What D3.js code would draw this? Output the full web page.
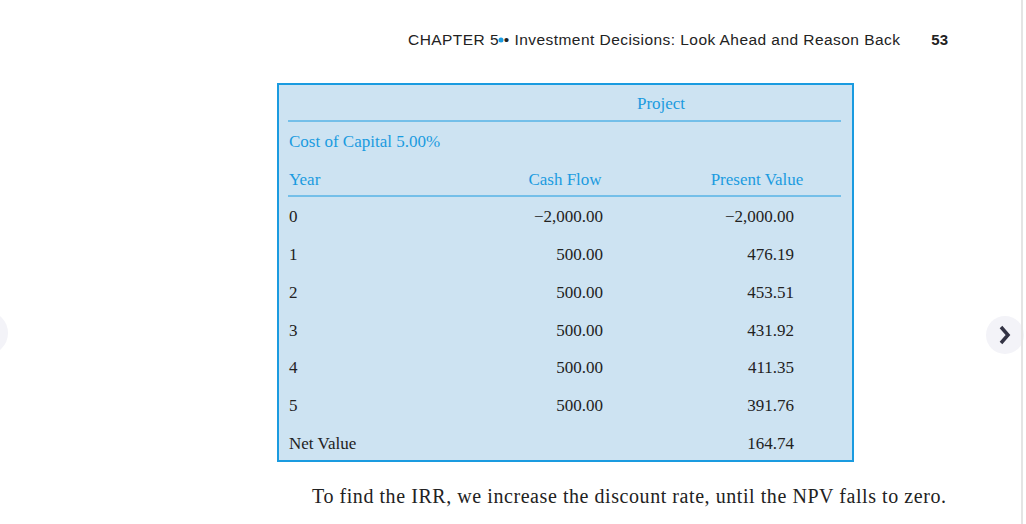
<!doctype html>
<html lang="en-us">
<head>
<meta charset="utf-8">
<title>Project NPV table</title>
<script src="https://d3js.org/d3.v7.min.js"></script>
<style>
	body { margin: 0; background: #fff; }
	svg text { font-family: "Liberation Serif", serif; }
</style>
</head>
<body>
<div id="chart"></div>
<script>
	// table data
	var years = ["0", "1", "2", "3", "4", "5"];
	var cashFlow = [-2000, 500, 500, 500, 500, 500];
	var presentValue = [-2000, 476.19, 453.51, 431.92, 411.35, 391.76];
	var netValue = 164.74;
	var columns = ["Year", "Cash Flow", "Present Value"];

	var W = 1026, H = 524;
	var blue = "#1a9be0", ink = "#222";
	var fmt = function (v) { return d3.format(",.2f")(v).replace("-", "\u2212"); };

	var svg = d3.select("#chart").append("svg")
		.attr("width", W).attr("height", H);

	// page header
	svg.append("text").attr("x", 900).attr("y", 45).attr("text-anchor", "end")
		.style("font-family", "'Liberation Sans', sans-serif").style("font-size", "15.5px")
		.attr("fill", ink).attr("textLength", 492)
		.text("CHAPTER 5 \u2022 Investment Decisions: Look Ahead and Reason Back");
	svg.append("circle").attr("cx", 501).attr("cy", 40).attr("r", 2.5).attr("fill", blue);
	svg.append("text").attr("x", 948).attr("y", 45).attr("text-anchor", "end")
		.style("font-family", "'Liberation Sans', sans-serif").style("font-size", "15px")
		.style("font-weight", "bold").attr("fill", ink).text("53");

	// table box
	svg.append("rect").attr("x", 278).attr("y", 84).attr("width", 575).attr("height", 377)
		.attr("fill", "#cde3f2").attr("stroke", blue).attr("stroke-width", 2);

	var rows = years.concat(["Net Value"]);
	var y = d3.scalePoint().domain(rows).range([216, 443]);

	var g = svg.append("g").style("font-size", "17px");

	g.append("text").attr("x", 661).attr("y", 109).attr("text-anchor", "middle")
		.attr("fill", blue).text("Project");
	g.append("text").attr("x", 289).attr("y", 147).attr("fill", blue).text("Cost of Capital 5.00%");
	[121, 196].forEach(function (ly) {
		g.append("line").attr("x1", 288).attr("x2", 841).attr("y1", ly).attr("y2", ly)
			.attr("stroke", blue).attr("stroke-width", 1);
	});

	var headX = [289, 565, 757], headAnchor = ["start", "middle", "middle"];
	g.selectAll(".head").data(columns).enter().append("text")
		.attr("x", function (d, i) { return headX[i]; })
		.attr("y", 185).attr("text-anchor", function (d, i) { return headAnchor[i]; })
		.attr("fill", blue).text(function (d) { return d; });

	var data = years.map(function (yr, i) { return { year: yr, cf: cashFlow[i], pv: presentValue[i] }; });
	data.push({ year: "Net Value", cf: null, pv: netValue });

	var row = g.selectAll(".row").data(data).enter().append("g")
		.attr("transform", function (d) { return "translate(0," + (y(d.year) + 6) + ")"; })
		.attr("fill", ink);
	row.append("text").attr("x", 289).text(function (d) { return d.year; });
	row.append("text").attr("x", 603).attr("text-anchor", "end")
		.text(function (d) { return d.cf === null ? "" : fmt(d.cf); });
	row.append("text").attr("x", 794).attr("text-anchor", "end")
		.text(function (d) { return fmt(d.pv); });

	// caption
	svg.append("text").attr("x", 312).attr("y", 503).attr("fill", ink)
		.style("font-size", "20px").attr("textLength", 634)
		.text("To find the IRR, we increase the discount rate, until the NPV falls to zero.");

	// viewer chrome
	svg.append("circle").attr("cx", -14).attr("cy", 333).attr("r", 22).attr("fill", "#f3f3f8");
	svg.append("circle").attr("cx", 1005).attr("cy", 335).attr("r", 19).attr("fill", "#f3f3f8");
	svg.append("path").attr("d", "M1001,327 L1008,335 L1001,343").attr("fill", "none")
		.attr("stroke", "#333344").attr("stroke-width", 3.5);
	svg.append("line").attr("x1", 1022).attr("x2", 1022).attr("y1", 0).attr("y2", H)
		.attr("stroke", "#e4e4e4").attr("stroke-width", 2);
</script>
</body>
</html>
